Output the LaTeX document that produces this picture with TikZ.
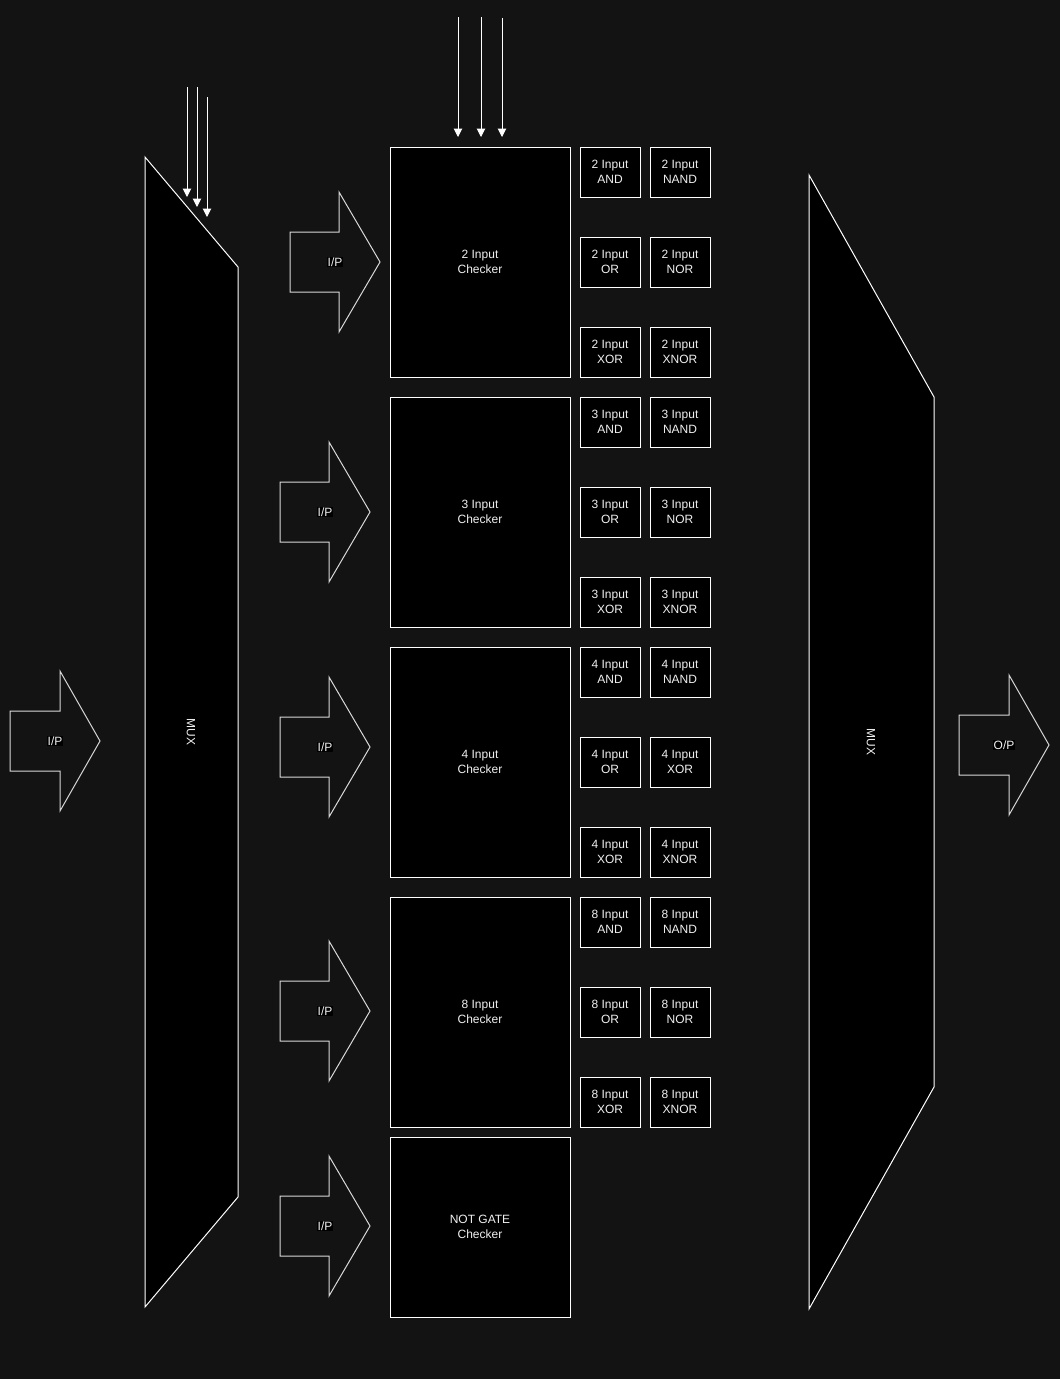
\documentclass[tikz,border=0pt]{standalone}
\usepackage{fontspec}
\setmainfont{Liberation Sans}
\usetikzlibrary{arrows.meta}
\definecolor{bgdark}{HTML}{131313}
\definecolor{txtgray}{HTML}{F0F0F0}
\tikzset{
  lbl/.style={text=txtgray, font=\fontsize{12}{15}\selectfont, align=center},
  blk/.style={lbl, draw=white, fill=black, line width=1pt, inner sep=0pt},
  checker/.style={blk, minimum width=180pt, minimum height=230pt},
  gate/.style={blk, minimum width=60pt, minimum height=50pt},
  fatarrow/.style={draw=white!85!black, fill=bgdark, line width=1pt},
  tag/.style={lbl, fill=black, inner sep=1pt},
  wire/.style={white, line width=1pt, -{Triangle[length=8.5pt,width=8.5pt]}}
}
\begin{document}
\begin{tikzpicture}[x=1pt,y=-1pt]
\useasboundingbox[fill=bgdark] (0,0) rectangle (1060,1379);
% the two multiplexers
\draw[blk] (145,157)--(238,267)--(238,1197)--(145,1307)--cycle;
\node[lbl, rotate=-90] (muxin) at (191,732) {MUX};
\draw[blk] (809,175)--(934,397)--(934,1087)--(809,1309)--cycle;
\node[lbl, rotate=-90] (muxout) at (871,742) {MUX};
% select lines
\coordinate (sa) at (187,87); \coordinate (ea) at (187,197);
\coordinate (sb) at (197,87); \coordinate (eb) at (197,207);
\coordinate (sc) at (207,97); \coordinate (ec) at (207,217);
\draw[wire] (sa)--(ea);
\draw[wire] (sb)--(eb);
\draw[wire] (sc)--(ec);
\coordinate (ta) at (458,17); \coordinate (ua) at (458,137);
\coordinate (tb) at (481,17); \coordinate (ub) at (481,137);
\coordinate (tc) at (502,18); \coordinate (uc) at (502,137);
\draw[wire] (ta)--(ua);
\draw[wire] (tb)--(ub);
\draw[wire] (tc)--(uc);
% fat arrows
\foreach \nm/\tl/\nk/\tp/\cy/\txt in {in/10/60/100/741/I\slash P, ipa/290/339/380/262/I\slash P,
  ipb/280/329/370/512/I\slash P, ipc/280/329/370/747/I\slash P, ipd/280/329/370/1011/I\slash P,
  ipe/280/329/370/1226/I\slash P, out/959/1009/1049/745/O\slash P}{
  \draw[fatarrow] (\tl,\cy-30)--(\nk,\cy-30)--(\nk,\cy-70)--(\tp,\cy)--(\nk,\cy+70)
    --(\nk,\cy+30)--(\tl,\cy+30)--cycle;
  \node[tag] (\nm) at ({(\tl+\tp)/2},\cy) {\txt};
}
% checkers
\foreach \k/\m in {0/2,1/3,2/4,3/8}{
  \node[checker] (chk\m) at (480,{262+250*\k}) {\m\ Input\\Checker};
}
\node[checker, minimum height=180pt] (chknot) at (480,1227) {NOT GATE\\Checker};
% gates
\foreach \k/\m/\a/\b/\c/\d/\e/\f in {0/2/AND/NAND/OR/NOR/XOR/XNOR,1/3/AND/NAND/OR/NOR/XOR/XNOR,
  2/4/AND/NAND/OR/XOR/XOR/XNOR,3/8/AND/NAND/OR/NOR/XOR/XNOR}{
  \node[gate] (g\m a) at (610,{172+250*\k}) {\m\ Input\\\a};
  \node[gate] (g\m b) at (680,{172+250*\k}) {\m\ Input\\\b};
  \node[gate] (g\m c) at (610,{262+250*\k}) {\m\ Input\\\c};
  \node[gate] (g\m d) at (680,{262+250*\k}) {\m\ Input\\\d};
  \node[gate] (g\m e) at (610,{352+250*\k}) {\m\ Input\\\e};
  \node[gate] (g\m f) at (680,{352+250*\k}) {\m\ Input\\\f};
}
\end{tikzpicture}
\end{document}
